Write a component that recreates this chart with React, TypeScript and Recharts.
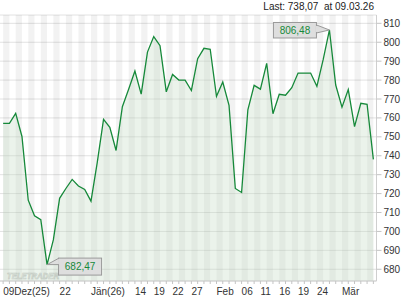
import React from 'react'
import {
  ComposedChart,
  Area,
  XAxis,
  YAxis,
  CartesianGrid,
  ReferenceArea,
  ReferenceDot,
} from 'recharts'

// trading days, Dec 2025 - Mar 2026
const dates = [
  '09.12.25', '10.12.25', '11.12.25', '12.12.25', '15.12.25', '16.12.25', '17.12.25',
  '18.12.25', '19.12.25', '22.12.25', '23.12.25', '29.12.25', '30.12.25',
  '02.01.26', '05.01.26', '06.01.26', '07.01.26', '08.01.26', '09.01.26', '12.01.26',
  '13.01.26', '14.01.26', '15.01.26', '16.01.26', '19.01.26', '20.01.26', '21.01.26',
  '22.01.26', '23.01.26', '26.01.26', '27.01.26', '28.01.26', '29.01.26', '30.01.26',
  '02.02.26', '03.02.26', '04.02.26', '05.02.26', '06.02.26', '09.02.26', '10.02.26',
  '11.02.26', '12.02.26', '13.02.26', '16.02.26', '17.02.26', '18.02.26', '19.02.26',
  '20.02.26', '23.02.26', '24.02.26', '25.02.26', '26.02.26', '27.02.26',
  '02.03.26', '03.03.26', '04.03.26', '05.03.26', '06.03.26', '09.03.26',
]

const closes = [
  757.1, 757.1, 762.4, 750.2, 716.5, 708.3, 706.2, 682.47, 695.5, 717.5,
  722.7, 727.5, 724.0, 722.2, 716.0, 736.5, 759.2, 755.0, 742.8, 765.9,
  775.2, 784.8, 772.6, 794.8, 803.0, 798.2, 773.8, 783.0, 780.0, 780.0,
  774.5, 791.3, 796.8, 796.3, 771.4, 779.0, 766.6, 722.7, 720.6, 764.3,
  777.2, 775.2, 788.8, 762.2, 772.5, 772.0, 776.0, 783.7, 783.7, 783.7,
  776.7, 790.8, 806.48, 777.4, 765.7, 775.0, 755.4, 767.7, 767.2, 738.07,
]

const tickDates = [
  '09.12.25', '22.12.25', '05.01.26', '14.01.26', '19.01.26', '22.01.26', '27.01.26',
  '02.02.26', '06.02.26', '11.02.26', '16.02.26', '19.02.26', '24.02.26', '02.03.26',
]
const tickTexts = [
  '09Dez(25)', '22', 'Jän(26)', '14', '19', '22', '27',
  'Feb', '06', '11', '16', '19', '24', 'Mär',
]

const priceTicks = [680, 690, 700, 710, 720, 730, 740, 750, 760, 770, 780, 790, 800, 810]

const data = dates.map((d, i) => ({ i, d, v: closes[i] }))
const allIdx = dates.map((_, i) => i)

const fmt = (n: number) => n.toFixed(2).replace('.', ',')

const maxV = Math.max(...closes)
const minV = Math.min(...closes)
const maxI = closes.indexOf(maxV)
const minI = closes.indexOf(minV)

const FONT = '"Liberation Sans", Arial, sans-serif'
const GREEN = '#16893a'

function XTick(props: any) {
  const { x, y, payload } = props
  const k = tickDates.indexOf(dates[payload.value])
  if (k < 0) return <g />
  return (
    <text x={x} y={y + 9} textAnchor="start" fontSize={10} fontFamily={FONT} fill="#333">
      {tickTexts[k]}
    </text>
  )
}

function MaxFlag(props: any) {
  const { cx, cy } = props
  return (
    <g>
      <path
        d={`M${cx - 13},${cy - 5} L${cx},${cy} L${cx - 13},${cy + 3}`}
        fill="#dedede"
        stroke="#9a9a9a"
        strokeWidth={1}
      />
      <rect x={cx - 56} y={cy - 7.5} width={43} height={15.5} fill="#dedede" stroke="#9a9a9a" />
      <rect x={cx - 13.5} y={cy - 4} width={1.5} height={6} fill="#dedede" />
      <text x={cx - 34.5} y={cy + 4} textAnchor="middle" fontSize={10} fontFamily={FONT} fill={GREEN}>
        {fmt(maxV)}
      </text>
    </g>
  )
}

function MinFlag(props: any) {
  const { cx, cy } = props
  return (
    <g>
      <path
        d={`M${cx + 12},${cy - 6.5} L${cx},${cy} L${cx + 12},${cy}`}
        fill="#dedede"
        stroke="#9a9a9a"
        strokeWidth={1}
      />
      <rect x={cx + 11.5} y={cy - 6.5} width={43} height={17} fill="#dedede" stroke="#9a9a9a" />
      <rect x={cx + 11} y={cy - 5.5} width={1.5} height={5} fill="#dedede" />
      <text x={cx + 33} y={cy + 5.5} textAnchor="middle" fontSize={10} fontFamily={FONT} fill={GREEN}>
        {fmt(minV)}
      </text>
    </g>
  )
}

export default function App() {
  return (
    <div style={{ position: 'absolute', left: 0, top: 0, width: 420, height: 300, background: '#fff' }}>
      <div
        style={{
          position: 'absolute',
          right: 46,
          top: 1,
          fontFamily: FONT,
          fontSize: 10,
          lineHeight: '12px',
          color: '#222',
          whiteSpace: 'pre',
        }}
      >
        {`Last: ${fmt(closes[closes.length - 1])}  at ${dates[dates.length - 1]}`}
      </div>

      <svg
        width={420}
        height={300}
        style={{ position: 'absolute', left: 0, top: 0, pointerEvents: 'none' }}
      >
        <text
          x={7}
          y={278.5}
          textLength={52}
          lengthAdjust="spacingAndGlyphs"
          fontSize={9}
          fontWeight="bold"
          fontStyle="italic"
          fontFamily={FONT}
          fill="#f6f6f6"
          stroke="#c4c4c4"
          strokeWidth={0.6}
        >
          TELETRADER
        </text>
      </svg>

      <div style={{ position: 'absolute', left: 0, top: 0 }}>
        <ComposedChart
          width={420}
          height={300}
          data={data}
          margin={{ top: 15, right: 0, bottom: 0, left: 0 }}
        >
          {allIdx.slice(0, -1).map((i) =>
            i % 2 === 0 ? (
              <ReferenceArea
                key={i}
                x1={i}
                x2={i + 1}
                fill="#000"
                fillOpacity={0.05}
                stroke="none"
              />
            ) : null
          )}
          <CartesianGrid vertical={false} stroke="#e2e2e2" />
          <XAxis
            type="number"
            dataKey="i"
            domain={[-0.5, 59.5]}
            allowDataOverflow
            ticks={allIdx}
            interval={0}
            height={19}
            tickSize={3}
            tickMargin={2}
            axisLine={{ stroke: '#cfcfcf' }}
            tickLine={{ stroke: '#c4c4c4' }}
            tick={<XTick />}
          />
          <YAxis
            orientation="right"
            domain={[673.8, 814.4]}
            allowDataOverflow
            ticks={priceTicks}
            interval={0}
            width={43.5}
            tickSize={5}
            tickMargin={2}
            axisLine={{ stroke: '#cfcfcf' }}
            tickLine={{ stroke: '#c4c4c4' }}
            tick={{ fontSize: 10, fontFamily: FONT, fill: '#333' }}
          />
          <Area
            type="linear"
            dataKey="v"
            stroke={GREEN}
            strokeWidth={1.3}
            fill="#c6dcc6"
            fillOpacity={0.35}
            dot={false}
            activeDot={false}
            isAnimationActive={false}
          />
          <ReferenceDot x={maxI} y={maxV} r={0} shape={<MaxFlag />} />
          <ReferenceDot x={minI} y={minV} r={0} shape={<MinFlag />} />
        </ComposedChart>
      </div>
    </div>
  )
}
